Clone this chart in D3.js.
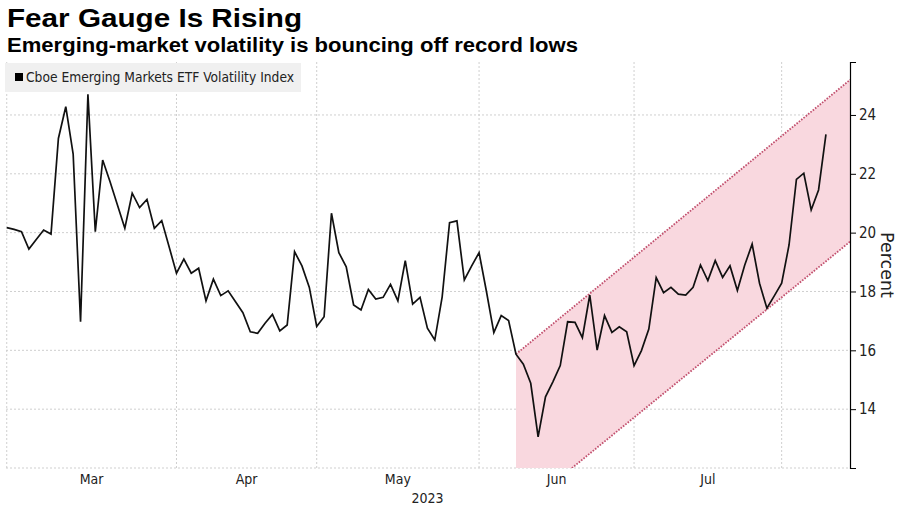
<!DOCTYPE html>
<html><head><meta charset="utf-8">
<script src="https://cdn.jsdelivr.net/npm/d3@7"></script>
<style>body{margin:0;background:#fff}</style>
</head><body><svg id="c" width="900" height="510"></svg>
<script>
// Daily values (trading-day index 0 = Mar 1, 2023)
const values = [
  20.17,20.11,20.03,19.44,19.77,20.09,19.95,23.2,24.28,22.67,16.97,24.7,20.03,22.47,21.73,20.94,20.15,21.34,20.85,21.13,20.15,20.41,19.52,
  18.62,19.1,18.62,18.79,17.68,18.42,17.86,18.02,17.65,17.28,16.63,16.58,16.92,17.22,16.66,16.86,19.35,18.87,18.14,
  16.81,17.14,20.66,19.32,18.84,17.54,17.37,18.07,17.74,17.8,18.24,17.68,19.05,17.57,17.8,16.75,16.35,17.82,20.34,20.4,18.39,18.87,
  19.32,18.0,16.6,17.18,17.01,15.87,15.53,14.88,13.06,14.42,14.93,15.48,16.97,16.95,16.43,17.88,16.01,17.18,16.61,16.8,16.63,
  15.48,15.99,16.72,18.47,17.96,18.14,17.91,17.88,18.14,18.9,18.37,19.05,18.48,18.87,18.03,18.9,19.61,18.28,17.43,17.85,
  18.28,19.58,21.81,22.02,20.77,21.45,23.34
];
const monthStarts = [0, 23, 42, 64, 85, 105];
const monthLabels = ["Mar", "Apr", "May", "Jun", "Jul"];
const yearLabel = "2023";
const yTicks = [14, 16, 18, 20, 22, 24];
const channelUpper = [[69, 15.87], [114.3, 25.2]];
const channelLower = [[69, 10.45], [114.3, 19.7]];
const seriesName = "Cboe Emerging Markets ETF Volatility Index";
const titleText = "Fear Gauge Is Rising";
const subtitleText = "Emerging-market volatility is bouncing off record lows";
const yAxisTitle = "Percent";

const svg = d3.select("#c");
const L = 6, R = 850, T = 62, B = 468;
const x = d3.scaleLinear().domain([-0.1, 114.26]).range([L, R]);
const y = d3.scaleLinear().domain([12, 25.8]).range([B, T]);

svg.append("text").attr("x", 7).attr("y", 27).text(titleText)
  .attr("font-family", "Liberation Sans, Arial, sans-serif").attr("font-weight", "bold")
  .attr("font-size", 26.5).attr("fill", "#000")
  .attr("textLength", 295).attr("lengthAdjust", "spacingAndGlyphs");
svg.append("text").attr("x", 7).attr("y", 52).text(subtitleText)
  .attr("font-family", "Liberation Sans, Arial, sans-serif").attr("font-weight", "bold")
  .attr("font-size", 19.5).attr("fill", "#000")
  .attr("textLength", 571).attr("lengthAdjust", "spacingAndGlyphs");

const gridColor = "#cfcfcf";
// horizontal grid
svg.append("g").selectAll("line").data([12].concat(yTicks)).join("line")
  .attr("x1", L).attr("x2", R).attr("y1", d => y(d)).attr("y2", d => y(d))
  .attr("stroke", gridColor).attr("stroke-width", 1).attr("stroke-dasharray", "2,2");
// vertical grid
svg.append("g").selectAll("line").data(monthStarts).join("line")
  .attr("x1", d => x(d)).attr("x2", d => x(d)).attr("y1", T).attr("y2", B)
  .attr("stroke", gridColor).attr("stroke-width", 1).attr("stroke-dasharray", "2,2");

// legend
svg.append("rect").attr("x", 5).attr("y", 63).attr("width", 296).attr("height", 29).attr("fill", "#f0f0f0");
svg.append("rect").attr("x", 15).attr("y", 73).attr("width", 8).attr("height", 8).attr("fill", "#000");
svg.append("text").attr("x", 26).attr("y", 82).text(seriesName)
  .attr("font-family", "DejaVu Sans Condensed, DejaVu Sans, sans-serif").attr("font-stretch", "condensed")
  .attr("font-size", 13.5).attr("fill", "#222")
  .attr("textLength", 268).attr("lengthAdjust", "spacingAndGlyphs");

// channel
svg.append("clipPath").attr("id", "plotClip").append("rect")
  .attr("x", L).attr("y", T).attr("width", R - L).attr("height", B - T);
const cg = svg.append("g").attr("clip-path", "url(#plotClip)");
const poly = channelUpper.concat(channelLower.slice().reverse());
cg.append("path").attr("d", "M" + poly.map(p => x(p[0]) + "," + y(p[1])).join("L") + "Z")
  .attr("fill", "#f9d8df");
[channelUpper, channelLower].forEach(seg => {
  cg.append("line").attr("x1", x(seg[0][0])).attr("y1", y(seg[0][1]))
    .attr("x2", x(seg[1][0])).attr("y2", y(seg[1][1]))
    .attr("stroke", "#c2506e").attr("stroke-width", 1.8).attr("stroke-dasharray", "1.6,1.4");
});

// line
svg.append("path").datum(values)
  .attr("d", d3.line().x((d, i) => x(i)).y(d => y(d)))
  .attr("fill", "none").attr("stroke", "#111").attr("stroke-width", 1.7).attr("stroke-linejoin", "miter");

// y axis
const ya = svg.append("g").attr("transform", `translate(${R},0)`)
  .call(d3.axisRight(y).tickValues([12].concat(yTicks)).tickSize(6).tickPadding(3)
    .tickFormat(d => d === 12 ? "" : d));
ya.select(".domain").attr("stroke", "#000").attr("stroke-width", 1.2);
ya.selectAll(".tick line").attr("stroke", "#000");
ya.selectAll("text").attr("font-family", "DejaVu Sans Condensed, DejaVu Sans, sans-serif")
  .attr("font-stretch", "condensed").attr("font-size", 15).attr("fill", "#222");
svg.append("text").attr("transform", `translate(881,${y(18.9)}) rotate(90)`)
  .attr("text-anchor", "middle").text(yAxisTitle)
  .attr("font-family", "DejaVu Sans, sans-serif").attr("font-size", 17.5).attr("fill", "#222");

// x labels
svg.append("g").selectAll("text").data(monthLabels).join("text")
  .attr("x", (d, i) => x((monthStarts[i] + monthStarts[i + 1]) / 2)).attr("y", 484)
  .attr("text-anchor", "middle").text(d => d)
  .attr("font-family", "DejaVu Sans Condensed, DejaVu Sans, sans-serif").attr("font-stretch", "condensed")
  .attr("font-size", 14).attr("fill", "#222");
svg.append("text").attr("x", x(57)).attr("y", 503).attr("text-anchor", "middle").text(yearLabel)
  .attr("font-family", "DejaVu Sans Condensed, DejaVu Sans, sans-serif").attr("font-stretch", "condensed")
  .attr("font-size", 14).attr("fill", "#222");
</script></body></html>
